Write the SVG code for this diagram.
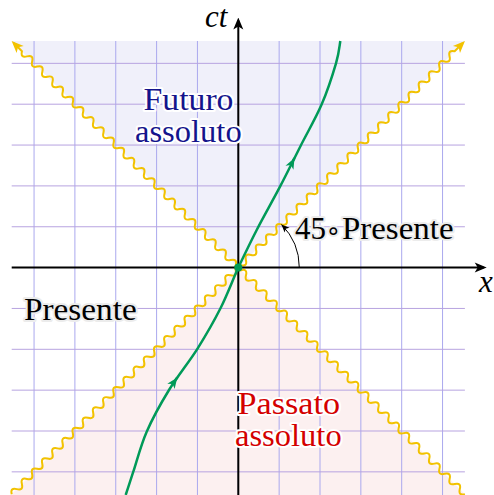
<svg xmlns="http://www.w3.org/2000/svg" xmlns:xlink="http://www.w3.org/1999/xlink" width="494" height="495" viewBox="0 0 494 495">
<defs>
<style>
.gv{stroke:#aaa8ee;stroke-width:1;fill:none}
.gh{stroke:#b7a3e0;stroke-width:1;fill:none}
.axis{stroke:#000;stroke-width:2;fill:none}
.snake{stroke:#f2c200;stroke-width:2;fill:none;stroke-linejoin:round}
.wl{stroke:#009a58;stroke-width:2.5;fill:none}
.lbl{font-size:31px;paint-order:stroke;stroke-width:4;stroke-linejoin:round}
.halo-g{fill:#000;stroke:#ececec}
.halo-b{fill:#14148c;stroke:#ffffff}
.halo-r{fill:#d40000;stroke:#ffffff}
.math{font-style:italic;font-size:31px;fill:#000}
</style>
<marker id="ak" markerUnits="userSpaceOnUse" viewBox="-13 -6 13 12" refX="-3" refY="0" markerWidth="13" markerHeight="12" orient="auto">
<path d="M0,0 L-12,-5 L-9,0 L-12,5 Z" fill="#000"/>
</marker>
<marker id="ay" markerUnits="userSpaceOnUse" viewBox="-13 -6 13 12" refX="-3" refY="0" markerWidth="13" markerHeight="12" orient="auto">
<path d="M0,0 L-12,-5 L-9,0 L-12,5 Z" fill="#f2c200"/>
</marker>
<marker id="ag" markerUnits="userSpaceOnUse" viewBox="-12 -6 13 12" refX="0" refY="0" markerWidth="13" markerHeight="12" orient="auto">
<path d="M0,0 L-11,-4.5 L-8,0 L-11,4.5 Z" fill="#009a58"/>
</marker>
<marker id="as" markerUnits="userSpaceOnUse" viewBox="-9 -5 10 10" refX="0" refY="0" markerWidth="10" markerHeight="10" orient="auto">
<path d="M0,0 L-8,-3.5 L-6,0 L-8,3.5 Z" fill="#000"/>
</marker>
<path id="wave" class="snake" marker-end="url(#ay)" d="M0,0 q3.6,-6 7.2,0
t7.2,0 t7.2,0 t7.2,0 t7.2,0 t7.2,0 t7.2,0 t7.2,0 t7.2,0 t7.2,0 t7.2,0
t7.2,0 t7.2,0 t7.2,0 t7.2,0 t7.2,0 t7.2,0 t7.2,0 t7.2,0 t7.2,0 t7.2,0
t7.2,0 t7.2,0 t7.2,0 t7.2,0 t7.2,0 t7.2,0 t7.2,0 t7.2,0 t7.2,0 t7.2,0
t7.2,0 t7.2,0 t7.2,0 t7.2,0 t7.2,0 t7.2,0 t7.2,0 t7.2,0 t7.2,0 t7.2,0
t7.2,0 t7.2,0 t7.2,0 t7.2,0 t7.2,0 t7.2,0 t7.2,0 t7.2,0 t7.2,0 t7.2,0
t7.2,0 t7.2,0 t7.2,0 t7.2,0 t7.2,0 t7.2,0 t7.2,0 t7.2,0 t7.2,0 t7.2,0
t7.2,0 t7.2,0 t7.2,0 t7.2,0 t7.2,0 t7.2,0 t7.2,0 t7.2,0 t7.2,0 t7.2,0
t7.2,0 t7.2,0 t7.2,0 t7.2,0 t7.2,0 t7.2,0 t7.2,0 t7.2,0 t7.2,0 t7.2,0
t7.2,0 t7.2,0 t7.2,0 t7.2,0 t7.2,0 t7.2,0 L638,0"/>
</defs>
<rect width="494" height="495" fill="#fff"/>
<g id="cones">
<polygon id="futuro-region" points="11.7,41 464.9,41 238.3,267.6" fill="#f0f0fa"/>
<polygon id="passato-region" points="10.9,495 465.7,495 238.3,267.6" fill="#fcf0f0"/>
</g>
<g id="grid">
<path class="gv" d="M34.05,41V495M74.9,41V495M115.75,41V495M156.6,41V495M197.45,41V495M238.3,41V495M279.15,41V495M320,41V495M360.85,41V495M401.7,41V495M442.55,41V495"/>
<path class="gh" d="M11.7,63.35H464.9M11.7,104.2H464.9M11.7,145.05H464.9M11.7,185.9H464.9M11.7,226.75H464.9M11.7,308.45H464.9M11.7,349.3H464.9M11.7,390.15H464.9M11.7,431H464.9M11.7,471.85H464.9"/>
</g>
<g id="connectors">
<use id="light-1" xlink:href="#wave" transform="translate(11.7,494.2) rotate(-45)"/>
<use id="light-2" xlink:href="#wave" transform="translate(464.9,494.2) rotate(-135)"/>
<path id="x-axis" class="axis" marker-end="url(#ak)" d="M11.7,267.6H483.7"/>
<path id="ct-axis" class="axis" marker-end="url(#ak)" d="M238.3,495V20.5"/>
<path id="angle" d="M299.3,267.6 A61,61 0 0 0 281.43,224.47" fill="none" stroke="#000" stroke-width="1" marker-end="url(#as)"/>
<path id="worldline" class="wl" d="M125.7,495 C128.23,487.23 129.8,482.25 133.3,471.7 C136.8,461.15 140.75,445.32 146.7,431.7 C152.65,418.08 160.5,403.9 169,390 C177.5,376.1 189.12,361.92 197.7,348.3 C206.28,334.68 213.73,321.68 220.5,308.3 C227.27,294.92 232.27,281.05 238.3,267.6 C244.33,254.95 249.75,243.55 256.7,230 C263.65,216.45 272.67,200.75 280,186.7 C287.33,172.65 293.75,159.43 300.7,145.7 C307.65,131.97 315.82,118.03 321.7,104.3 C327.58,90.57 332.9,73.85 336,63.3 C339.1,52.75 339.2,48.4 340.3,41"/>
<path class="wl" stroke-width="1" marker-end="url(#ag)" d="M175.6,379.8 L177.3,377.4"/>
<path class="wl" stroke-width="1" marker-end="url(#ag)" d="M293.1,160.7 L294.5,158"/>
<circle id="origin" cx="238.3" cy="267.6" r="4" fill="#009a58"/>
</g>
<g id="label-ct"><text class="math" font-family="Liberation Serif, serif" x="205" y="26.5">ct</text></g>
<g id="label-x"><text class="math" font-family="Liberation Serif, serif" x="479" y="292">x</text></g>
<g id="node-futuro" font-family="Liberation Serif, serif">
<text class="lbl halo-b" x="143.5" y="110" textLength="90" lengthAdjust="spacingAndGlyphs">Futuro</text>
<text class="lbl halo-b" x="135" y="141.5" textLength="106.7" lengthAdjust="spacingAndGlyphs">assoluto</text>
</g>
<g id="node-passato" font-family="Liberation Serif, serif">
<text class="lbl halo-r" x="237.5" y="413.5" textLength="102.5" lengthAdjust="spacingAndGlyphs">Passato</text>
<text class="lbl halo-r" x="235" y="445.5" textLength="106.7" lengthAdjust="spacingAndGlyphs">assoluto</text>
</g>
<g id="node-presente-left" font-family="Liberation Serif, serif">
<text class="lbl halo-g" x="24" y="320" textLength="112.7" lengthAdjust="spacingAndGlyphs">Presente</text>
</g>
<g id="node-presente-right" font-family="Liberation Serif, serif">
<text class="lbl halo-g" x="295" y="238.5">45<tspan x="325.5" font-family="DejaVu Sans, sans-serif" font-size="25">∘</tspan></text>
<text class="lbl halo-g" x="342" y="238.5" textLength="111.5" lengthAdjust="spacingAndGlyphs">Presente</text>
</g>
</svg>
